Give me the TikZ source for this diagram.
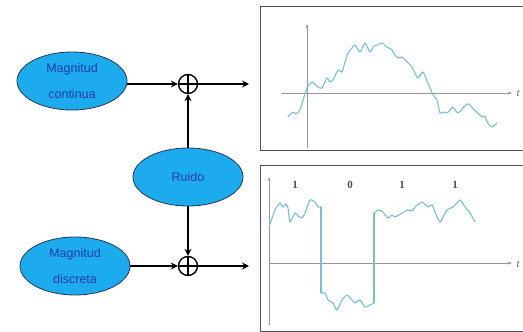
\documentclass[tikz,border=0pt]{standalone}
\usepackage{fontspec}
\setmainfont{Liberation Serif}
\setsansfont{Liberation Sans}
\usetikzlibrary{arrows.meta,shapes.geometric}
\definecolor{blobfill}{RGB}{28,172,238}
\definecolor{blobtext}{RGB}{25,58,170}
\definecolor{blobline}{RGB}{35,55,85}
\definecolor{sigcol}{RGB}{120,192,208}
\definecolor{axiscol}{RGB}{150,150,150}
\definecolor{framecol}{RGB}{80,80,80}
\tikzset{
  source/.style={ellipse, draw=blobline, line width=0.8pt, fill=blobfill,
    minimum width=110pt, minimum height=58pt, inner sep=0pt,
    font=\sffamily\fontsize{12.5}{26}\selectfont, text=blobtext, align=center},
  adder/.style={circle, draw=black, line width=1.4pt, minimum size=19pt, inner sep=0pt,
    path picture={\draw[line width=1.4pt] (path picture bounding box.north) -- (path picture bounding box.south)
      (path picture bounding box.west) -- (path picture bounding box.east);}},
  flow/.style={line width=1.5pt, -{Stealth[length=7pt,width=7pt,inset=2.5pt]}},
  frame/.style={draw=framecol, line width=0.8pt},
  axis/.style={draw=axiscol, line width=0.6pt, -{Stealth[length=4pt,width=3pt]}},
  signal/.style={draw=sigcol, line width=1.1pt, line join=round, line cap=round},
  bit/.style={font=\rmfamily\bfseries\fontsize{11}{11}\selectfont, text=black!70},
  tlabel/.style={font=\rmfamily\itshape\fontsize{11}{11}\selectfont, text=black!60}
}
\begin{document}
\begin{tikzpicture}[x=1pt, y=-1pt]
\useasboundingbox (0,0) rectangle (523,332);
\clip (0,0) rectangle (523,332);

% block diagram
\node[source] (cont) at (72,81) {Magnitud\\continua};
\node[source] (ruido) at (188,177) {Ruido};
\node[source] (disc) at (75,266) {Magnitud\\discreta};
\node[adder] (sum1) at (188,84) {};
\node[adder] (sum2) at (188,266) {};
\coordinate (out1) at (249,84);
\coordinate (out2) at (249,266);

\draw[flow] (cont.east |- sum1) -- (sum1.west);
\draw[flow] (sum1.east) -- (out1);
\draw[flow] (ruido.north -| sum1) -- (sum1.south);
\draw[flow] (ruido.south -| sum2) -- (sum2.north);
\draw[flow] (disc.east |- sum2) -- (sum2.west);
\draw[flow] (sum2.east) -- (out2);

% analog signal with noise
\draw[frame] (260,6) rectangle (540,150);
\draw[axis] (307,148) -- (307,24);
\draw[axis] (282,93) -- (512,93);
\node[tlabel, anchor=west] (t1) at (513,93) {t};
\draw[signal] plot[smooth, tension=0.35] coordinates {
 (288,117) (293,112) (296,114) (300,110) (303,100) (307,88) (312,82) (318,87) (322,88)
 (327,78) (330,82) (333,80) (338,70) (342,72) (345,62) (348,53) (352,48) (355,45) (360,52) (365,43)
 (370,52) (374,46) (377,45) (382,43) (387,47) (392,50) (395,55) (398,58) (402,57) (405,60) (412,67)
 (415,73) (418,78) (423,72) (428,83) (433,95) (437,100) (440,113) (444,112) (447,113) (450,110) (453,107)
 (458,113) (463,108) (467,104) (470,105) (474,110) (477,112) (482,117) (485,116) (487,122) (492,127) (497,123)};

% digital signal with noise
\draw[frame] (260,165) rectangle (540,331);
\draw[axis] (269,325) -- (269,177);
\draw[axis] (269,263) -- (512,263);
\node[tlabel, anchor=west] (t2) at (513,264) {t};
\node[bit] (b1) at (295,185) {1};
\node[bit] (b2) at (350,185) {0};
\node[bit] (b3) at (402,185) {1};
\node[bit] (b4) at (455,185) {1};
\draw[signal] plot[smooth, tension=0.3] coordinates {
 (269,227) (275,210) (280,203) (283,207) (286,204) (288,208) (290,222) (295,213) (298,216) (302,218)
 (305,213) (310,200) (315,202) (318,207) (321,207)};
\draw[signal] plot coordinates {(321,207) (321,293)};
\draw[signal] plot[smooth, tension=0.3] coordinates {
 (321,293) (325,293) (328,300) (333,303) (337,310) (342,300) (347,295) (352,300) (355,303) (360,300) (365,307)
 (370,305) (374,303)};
\draw[signal] plot coordinates {(374,303) (374,213)};
\draw[signal] plot[smooth, tension=0.3] coordinates {
 (374,213) (378,210) (383,212) (388,218) (392,215) (395,217) (402,213)
 (408,210) (412,211) (415,207) (422,202) (428,207) (432,205) (435,212) (440,222) (447,210) (453,207)
 (460,200) (465,207) (470,213) (475,222)};
\end{tikzpicture}
\end{document}
